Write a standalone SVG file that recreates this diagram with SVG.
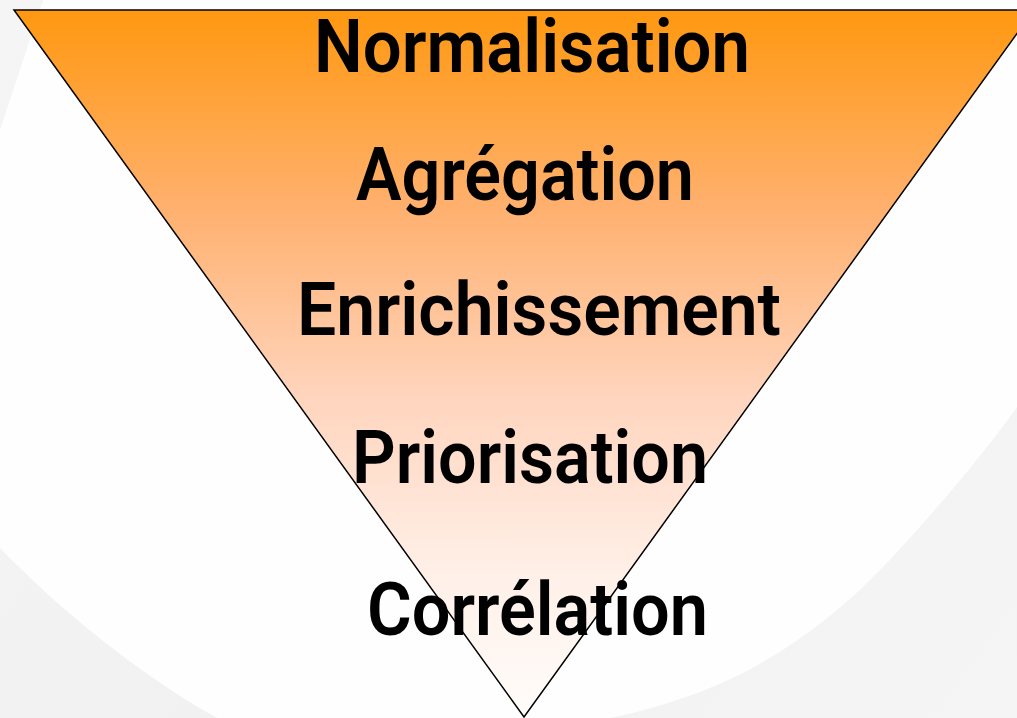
<svg xmlns="http://www.w3.org/2000/svg" width="1017" height="718" viewBox="0 0 1017 718">
  <style>
    .lbl { font-family: Roboto, "Liberation Sans", Arial, sans-serif; font-weight: 600; font-size: 75px; fill: #000; }
  </style>
  <defs>
    <linearGradient id="funnelGrad" x1="0" y1="10" x2="0" y2="717" gradientUnits="userSpaceOnUse">
      <stop offset="0" stop-color="#FF9810"/>
      <stop offset="0.28" stop-color="#FFB06E"/>
      <stop offset="0.55" stop-color="#FFD5BE"/>
      <stop offset="0.8" stop-color="#FFF0E8"/>
      <stop offset="1" stop-color="#FFFCFA"/>
    </linearGradient>
    <linearGradient id="bgGrad" x1="0" y1="0" x2="1017" y2="718" gradientUnits="userSpaceOnUse">
      <stop offset="0" stop-color="#F5F5F5"/>
      <stop offset="0.5" stop-color="#F1F1F1"/>
      <stop offset="1" stop-color="#F5F5F5"/>
    </linearGradient>
  </defs>
  <g id="background">
    <rect x="0" y="0" width="1017" height="718" fill="url(#bgGrad)"/>
    <path d="M43,0 H1017 V407 C985,452 935,512 883,567 C830,622 770,665 700,692 C670,703 640,712 610,718 H217 C140,675 60,610 0,548 V130 C15,85 28,45 43,0 Z" fill="#FEFEFE"/>
  </g>
  <g id="funnel">
    <polygon points="14,10 1034,10 524,717" fill="url(#funnelGrad)" stroke="#000" stroke-width="1.5" stroke-linejoin="miter"/>
  </g>
  <g id="node-normalisation">
    <text class="lbl" x="314" y="72" textLength="436" lengthAdjust="spacingAndGlyphs">Normalisation</text>
  </g>
  <g id="node-agregation">
    <text class="lbl" x="356" y="200" textLength="338" lengthAdjust="spacingAndGlyphs">Agrégation</text>
  </g>
  <g id="node-enrichissement">
    <text class="lbl" x="297" y="335" textLength="484" lengthAdjust="spacingAndGlyphs">Enrichissement</text>
  </g>
  <g id="node-priorisation">
    <text class="lbl" x="352" y="483" textLength="356" lengthAdjust="spacingAndGlyphs">Priorisation</text>
  </g>
  <g id="node-correlation">
    <text class="lbl" x="367" y="635" textLength="341" lengthAdjust="spacingAndGlyphs">Corrélation</text>
  </g>
</svg>
